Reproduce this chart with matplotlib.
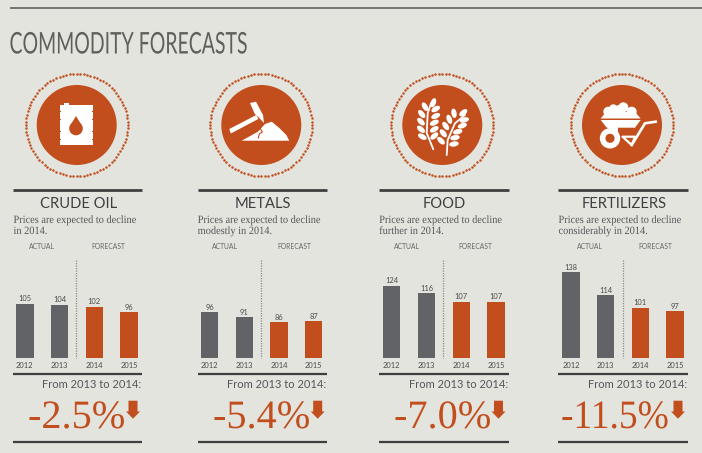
import numpy as np
import matplotlib
matplotlib.use("Agg")
import matplotlib.pyplot as plt
from matplotlib.patches import Circle, Ellipse, Polygon, Rectangle
from matplotlib.patheffects import AbstractPathEffect
from matplotlib.transforms import Affine2D

# ---------- data ----------
commodities = ["CRUDE OIL", "METALS", "FOOD", "FERTILIZERS"]
descriptions = ["Prices are expected to decline\nin 2014.",
                "Prices are expected to decline\nmodestly in 2014.",
                "Prices are expected to decline\nfurther in 2014.",
                "Prices are expected to decline\nconsiderably in 2014."]
years = ["2012", "2013", "2014", "2015"]
crude_oil = [105, 104, 102, 96]
metals = [96, 91, 86, 87]
food = [124, 116, 107, 107]
fertilizers = [138, 114, 101, 97]
changes = ["-2.5%", "-5.4%", "-7.0%", "-11.5%"]
series = [crude_oil, metals, food, fertilizers]

BG = "#E4E4DE"; OR = "#C24E1E"; GR = "#626366"; DK = "#3F3F3F"; TX = "#55565A"
W, H = 702, 453
fig = plt.figure(figsize=(W/100, H/100), dpi=100, facecolor=BG)
bg = fig.add_axes([0, 0, 1, 1]); bg.set_xlim(0, W); bg.set_ylim(H, 0); bg.axis("off")

SANS = ["Lato", "DejaVu Sans"]
SERIF = ["Liberation Serif", "DejaVu Serif"]


class HScale(AbstractPathEffect):
    """Draw text narrower or wider, keeping its left end in place."""
    def __init__(self, sx):
        super().__init__()
        self.sx = sx

    def draw_path(self, renderer, gc, tpath, affine, rgbFace=None):
        renderer.draw_path(gc, tpath, Affine2D().scale(self.sx, 1) + affine, rgbFace)


# layout (pixels)
rule_x = [(13.3, 142), (197.5, 327), (379, 508.7), (558.3, 688)]
icon_x = [76.7, 261.3, 442.3, 622]
first_bar = [24.85, 209.5, 391.8, 571]
sep_x = [75.5, 261, 442.7, 622.7]
act_x = [(41.7, 108), (225.3, 294), (407.3, 475.7), (589.7, 655.3)]
pct_left = [28, 213, 394, 561]
pct_sx = [1.0, 1.0, 1.0, 0.93]
arrow_x = [133, 317.7, 498.5, 678]
BASE_Y = 357.5; PX_PER = 0.96; AX_H = 115

bg.plot([10, 702], [8, 8], color="#555555", lw=1.1, solid_capstyle="butt")
bg.text(9.5, 44.5, "COMMODITY FORECASTS", family=SANS, fontsize=21.5, color="#5F605C",
        ha="left", va="center", path_effects=[HScale(0.652)])


def poly(pts, cx, cy, fc="white", z=3):
    bg.add_patch(Polygon([(cx+x, cy+y) for x, y in pts], fc=fc, ec="none", zorder=z))


def barrel(cx, cy):
    bg.add_patch(Rectangle((cx-16.5, cy-20), 32.5, 39.5, fc="white", ec="none", zorder=3))
    bg.add_patch(Rectangle((cx-13, cy-22), 5, 2, fc="white", ec="none", zorder=3))
    for dy in (-14, -6, 6, 14):
        for x0 in (cx-17, cx+15):
            bg.add_patch(Rectangle((x0, cy+dy-0.5), 1.5, 1, fc=OR, ec="none", zorder=4))
    bg.add_patch(Circle((cx-0.7, cy+3.5), 6.8, fc=OR, ec="none", zorder=4))
    poly([(-6.5, 0.5), (-0.7, -9), (5.1, 0.5)], cx, cy, OR, 4)


def hammer(cx, cy):
    poly([(-19.6, 15.7), (-3.3, 6.7), (3.7, -1), (10.4, -3.3), (18, 3), (25, 10), (28, 15.7)], cx, cy)
    poly([(-32, 4), (-30.5, 8.5), (-3, -6), (-5, -10)], cx, cy)
    poly([(-11.3, -22), (-5.3, -23.3), (1.7, -10), (2.7, -2), (-3, -8), (-6.5, -11)], cx, cy)
    bg.plot([cx-1.3, cx+1, cx-2, cx-3], [cy+3, cy+7, cy+9, cy+13], color=OR, lw=0.8, zorder=4)


def wheat_stalk(pts, leaves):
    p = np.array(pts, dtype=float)
    bg.plot(p[:, 0], p[:, 1], color="white", lw=1.3, solid_capstyle="round", zorder=3)
    for x, y, ang in leaves:
        bg.add_patch(Ellipse((x, y), 9.5, 5.2, angle=ang, fc="white", ec="none", zorder=3))


def wheat(cx, cy):
    ox, oy = cx-442.3, cy-125
    left_pts = [(433.3, 149.3), (426.7, 133), (427.7, 113.3), (431, 103.3)]
    right_pts = [(446.7, 155), (447.7, 140), (455, 123.3), (465, 115)]
    left_leaves = [(433.3, 102.7, -70), (425, 106.7, 60), (435.7, 109, -30), (421.7, 114, 50),
                   (435.7, 116, -25), (421, 121.7, 45), (434.3, 122.7, -25), (421, 129.3, 40),
                   (434.3, 129.3, -30), (422.3, 136.7, 30), (434.3, 136, -40)]
    right_leaves = [(463.3, 112.7, -40), (454, 113.3, 80), (464.3, 120, -15), (449.3, 119.3, 70),
                    (462.3, 125.7, -20), (445.7, 126, 55), (457.7, 131.7, -15), (443.3, 133.3, 50),
                    (455, 137.7, -10), (441, 140.7, 45), (454, 144, -10)]
    wheat_stalk([(x+ox, y+oy) for x, y in left_pts], [(x+ox, y+oy, a) for x, y, a in left_leaves])
    wheat_stalk([(x+ox, y+oy) for x, y in right_pts], [(x+ox, y+oy, a) for x, y, a in right_leaves])


def barrow(cx, cy):
    poly([(-21.3, -5), (18.7, -5), (13, 2.7), (-15.3, 2.7)], cx, cy)
    poly([(-21.3, -6.5), (18.7, -6.5), (13, -13), (-16, -13)], cx, cy)
    for x, y, r in [(-13.7, -13.3, 5), (-8.7, -16.7, 4), (1.3, -17.7, 5), (9.7, -13.3, 5), (-3, -15, 5)]:
        bg.add_patch(Circle((cx+x, cy+y), r, fc="white", ec="none", zorder=3))
    bg.plot([cx-22, cx+19], [cy-5.8, cy-5.8], color=OR, lw=0.7, zorder=4)
    bg.plot([cx+9.7, cx+23, cx+33.7], [cy+20, cy-1.7, cy-3.3], color="white", lw=1.9, zorder=3,
            solid_joinstyle="round")
    bg.add_patch(Polygon([(cx+0.5, cy+11.7), (cx+13, cy+11.7), (cx+9.7, cy+20)], fc="none", ec="white",
                         lw=1.6, zorder=3, joinstyle="round"))
    poly([(-14, 2), (-4, 2), (-4, 8), (-11, 8)], cx, cy)
    bg.add_patch(Circle((cx-12, cy+13.3), 7.4, fc=OR, ec="white", lw=4, zorder=4))


icons = [barrel, hammer, wheat, barrow]

for i, name in enumerate(commodities):
    cx = icon_x[i]; cy = 125
    l, r = rule_x[i]
    bg.add_patch(Circle((cx, cy), 40, fc=OR, ec="none", zorder=2))
    th = np.linspace(0, 2*np.pi, 92, endpoint=False)
    bg.plot(cx+51*np.cos(th), cy+51*np.sin(th), ls="none", marker="o", ms=1.8, mfc=OR, mec="none", zorder=2)
    icons[i](cx, cy)

    for y in (190, 374.3, 441.7):
        bg.plot([l, r], [y, y], color=DK, lw=1.6 if y != 190 else 2.0, solid_capstyle="butt")
    bg.text((l+r)/2+0.8, 204.5, name, family=SANS, fontsize=10.6, color="#3D3E40", ha="center", va="center")
    line1, line2 = descriptions[i].split("\n")
    bg.text(l+0.2, 220.5, line1, family=SERIF, fontsize=8, color=TX, ha="left", va="center",
            path_effects=[HScale(0.93)])
    bg.text(l+0.2, 231.5, line2, family=SERIF, fontsize=8, color=TX, ha="left", va="center",
            path_effects=[HScale(0.93)])
    for xx, lab in zip(act_x[i], ("ACTUAL", "FORECAST")):
        bg.text(xx, 246.7, lab, family=SANS, fontsize=4.9, color="#66676A", ha="center", va="center")
    bg.plot([sep_x[i]]*2, [260, BASE_Y], color="#8C8C8C", lw=0.9, ls=(0, (1, 1)))

    # bars
    ax = fig.add_axes([(first_bar[i]-17.35)/W, (H-BASE_Y)/H, 138.8/W, AX_H/H], facecolor="none")
    ax.set_xlim(-0.5, 3.5); ax.set_ylim(49, 49+AX_H/PX_PER)
    colors = [GR, GR, OR, OR]
    bars = ax.bar(range(4), series[i], width=0.5, color=colors)
    ax.bar_label(bars, padding=1, fontsize=5.4, color="#4A4A4A", family=SANS)
    ax.set_xticks(range(4)); ax.set_xticklabels(years, fontsize=5.4, color="#4A4A4A", family=SANS)
    ax.tick_params(axis="x", length=0, pad=3.2)
    ax.set_yticks([])
    for s in ax.spines.values():
        s.set_visible(False)

    bg.text(r-0.5, 385, "From 2013 to 2014:", family=SANS, fontsize=8, color="#55565A", ha="right", va="center")
    bg.text(pct_left[i], 428, changes[i], family=SERIF, fontsize=29, color=OR, ha="left", va="baseline",
            path_effects=[HScale(pct_sx[i])])
    xa = arrow_x[i]
    bg.add_patch(Polygon([(xa-4.5, 400.7), (xa+4.5, 400.7), (xa+4.5, 411.5), (xa+7, 411.5), (xa, 418.7),
                          (xa-7, 411.5), (xa-4.5, 411.5)], fc=OR, ec="none"))

fig.savefig("out.png", dpi=100, facecolor=BG)
